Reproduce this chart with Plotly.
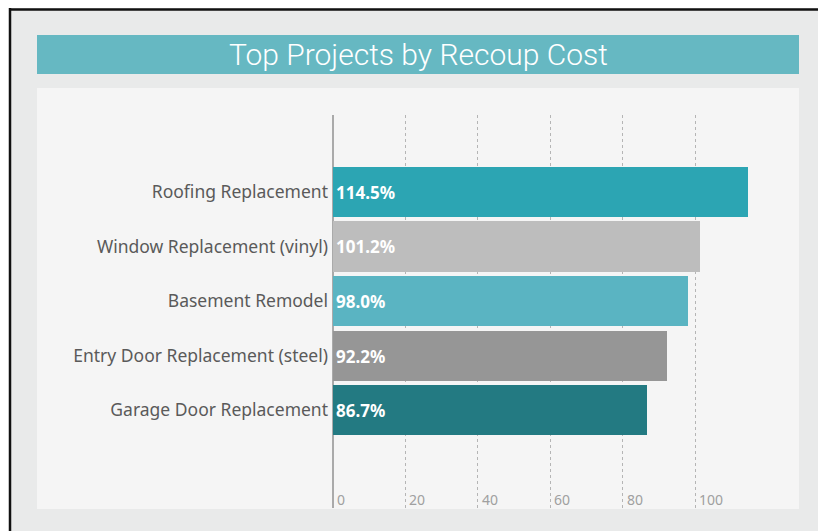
import plotly.graph_objects as go

categories = ["Roofing Replacement", "Window Replacement (vinyl)", "Basement Remodel",
              "Entry Door Replacement (steel)", "Garage Door Replacement"]
values = [114.5, 101.2, 98.0, 92.2, 86.7]
bar_colors = ["#2ca5b3", "#bdbdbd", "#5ab4c2", "#969696", "#237a82"]
tick_vals = [0, 20, 40, 60, 80, 100]
title_text = "Top Projects by Recoup Cost"

W, H = 818, 531
L, R, T, B = 333, 54, 115, 23
PW, PH = W - L - R, H - T - B

n = len(categories)
ypos = list(range(n - 1, -1, -1))

fig = go.Figure()
fig.add_trace(go.Bar(
    x=values, y=ypos, orientation="h",
    marker=dict(color=bar_colors, line=dict(width=0)),
    width=0.92,
    text=[f"{v:.1f}%" for v in values],
    textposition="inside", insidetextanchor="start",
    textfont=dict(color="white", size=17, family="Noto Sans", weight="bold"),
    cliponaxis=False, hoverinfo="skip",
))


def fx(p):
    return (p - L) / PW


def fy(p):
    return (H - B - p) / PH


def rect(x0, x1, y0, y1, color):
    return dict(type="rect", xref="paper", yref="paper", layer="below",
                x0=fx(x0), x1=fx(x1), y0=fy(y1), y1=fy(y0),
                fillcolor=color, line=dict(width=0))


shapes = [
    rect(37, 799, 88, 509, "#f5f5f5"),
    rect(37, 799, 35, 74, "#66b8c2"),
    rect(0, 9, 0, 531, "#ffffff"),
    rect(0, 818, 0, 8, "#ffffff"),
    dict(type="line", xref="paper", yref="paper", layer="below",
         x0=fx(10), x1=fx(10), y0=fy(531), y1=fy(8),
         line=dict(color="#111", width=2.5)),
    dict(type="line", xref="paper", yref="paper", layer="below",
         x0=fx(9), x1=fx(818), y0=fy(9.5), y1=fy(9.5),
         line=dict(color="#111", width=2.5)),
]

annotations = [
    dict(text=title_text, xref="paper", yref="paper",
         x=fx(418), y=fy(55), showarrow=False, xanchor="center", yanchor="middle",
         font=dict(family="Roboto", size=30, color="white", weight=300)),
]
for tv in tick_vals:
    annotations.append(dict(text=str(tv), x=tv, xref="x", yref="paper", y=0,
                            xanchor="left", yanchor="bottom", xshift=2, yshift=-3,
                            showarrow=False,
                            font=dict(family="Noto Sans", size=14, color="#a0a0a0")))

fig.update_layout(
    width=W, height=H,
    margin=dict(l=L, r=R, t=T, b=B, pad=0),
    paper_bgcolor="#e9eaea", plot_bgcolor="rgba(0,0,0,0)",
    showlegend=False, bargap=0,
    shapes=shapes, annotations=annotations,
    xaxis=dict(range=[0, 119], tickvals=tick_vals, showticklabels=False,
               showgrid=True, gridcolor="#b5b5b5", griddash="dot", gridwidth=1,
               zeroline=True, zerolinecolor="#aaaaaa", zerolinewidth=1.5,
               showline=False, ticks="", fixedrange=True),
    yaxis=dict(range=[-1.79, 5.41], tickvals=ypos, ticktext=categories,
               showgrid=False, zeroline=False, showline=False, ticks="",
               ticklabelstandoff=4,
               tickfont=dict(family="Noto Sans", size=17.5, color="#5a5a5a"),
               fixedrange=True),
)
fig.write_html("out.html", config={"displayModeBar": False},
               post_script="document.body.style.margin='0';document.body.style.overflow='hidden';")
